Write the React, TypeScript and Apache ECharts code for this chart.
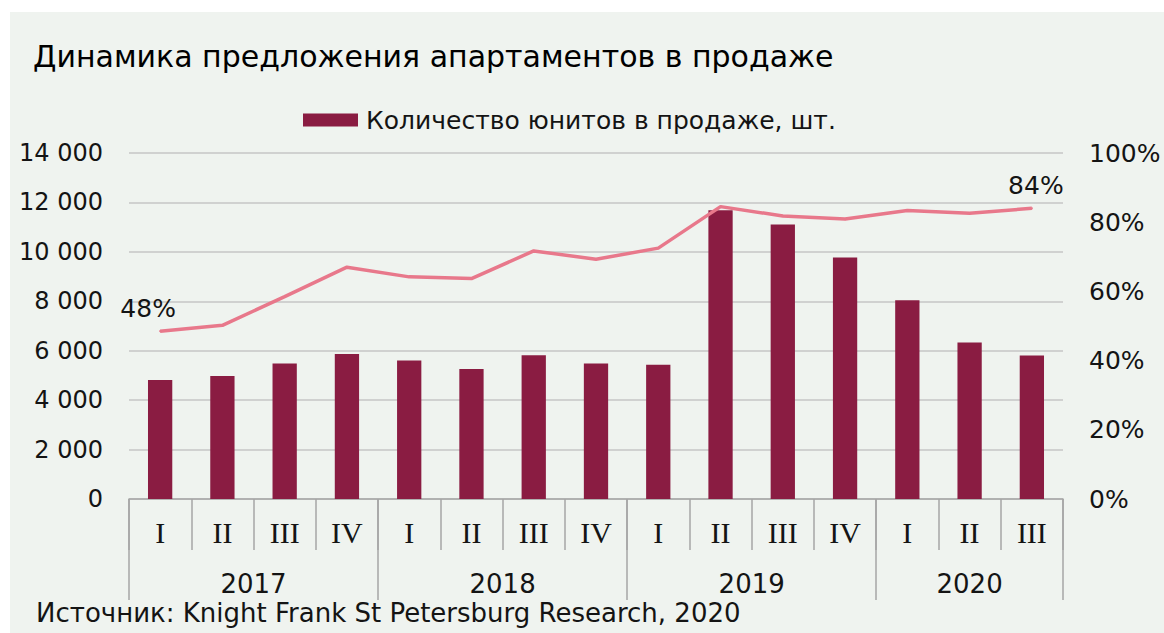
import React, { useEffect, useRef } from "react";
import * as echarts from "echarts";

const quarters = ["I", "II", "III", "IV", "I", "II", "III", "IV", "I", "II", "III", "IV", "I", "II", "III"];
const years = ["2017", "2018", "2019", "2020"];
const quartersPerYear = [4, 4, 4, 3];
const units = [4820, 4980, 5480, 5870, 5605, 5265, 5820, 5485, 5430, 11680, 11110, 9775, 8045, 6335, 5805];
const shares = [48.5, 50.2, 58.5, 67.0, 64.2, 63.7, 71.7, 69.3, 72.5, 84.5, 81.8, 80.9, 83.4, 82.6, 84.0];
const shareLabels = ["48%", "", "", "", "", "", "", "", "", "", "", "", "", "", "84%"];
const leftTicks = [0, 2000, 4000, 6000, 8000, 10000, 12000, 14000];
const rightTicks = [0, 20, 40, 60, 80, 100];

const TITLE = "Динамика предложения апартаментов в продаже";
const LEGEND = "Количество юнитов в продаже, шт.";
const SOURCE = "Источник: Knight Frank St Petersburg Research, 2020";

const SANS = "DejaVu Sans";
const SERIF = "Liberation Serif";
const TXT = "#141414";
const LINE = "#E8788B";

function fmtThousands(v: number): string {
  return String(v).replace(/\B(?=(\d{3})+(?!\d))/g, " ");
}

export default function App() {
  const ref = useRef<HTMLDivElement>(null);
  useEffect(() => {
    if (!ref.current) return;
    const chart = echarts.init(ref.current, null, { renderer: "svg" });

    const bounds: number[] = [0];
    const centers: number[] = [];
    let acc = 0;
    quartersPerYear.forEach((n) => {
      centers.push(acc + n / 2);
      acc += n;
      bounds.push(acc);
    });

    const lineData = shares.map((v, i) =>
      shareLabels[i]
        ? {
            value: v,
            label: {
              show: true,
              formatter: shareLabels[i],
              position: "top",
              distance: 0,
              offset: i === 0 ? [-12, -9] : [4, -9],
              fontFamily: SANS,
              fontSize: 25,
              lineHeight: 25,
              color: TXT,
            },
          }
        : v
    );

    chart.setOption({
      animation: false,
      backgroundColor: "transparent",
      title: {
        text: TITLE,
        left: 33,
        top: 40,
        textStyle: { fontFamily: SANS, fontSize: 30, fontWeight: "normal", color: "#000", lineHeight: 32 },
        padding: 0,
      },
      legend: {
        left: 303,
        top: 106,
        padding: 0,
        itemWidth: 55,
        itemHeight: 13,
        itemGap: 10,
        data: [{ name: LEGEND, icon: "rect" }],
        textStyle: { fontFamily: SANS, fontSize: 25, color: TXT, lineHeight: 28, padding: [0, 0, 0, 3] },
      },
      grid: { left: 129, right: 101, top: 153, bottom: 134, containLabel: false },
      xAxis: [
        {
          type: "category",
          data: quarters,
          position: "bottom",
          boundaryGap: true,
          axisLine: { show: true, lineStyle: { color: "#A6A6A6", width: 1.5 } },
          axisTick: { show: true, interval: 0, length: 51, lineStyle: { color: "#A6A6A6", width: 1.5 } },
          axisLabel: { interval: 0, margin: 18, fontFamily: SERIF, fontSize: 30, color: TXT },
          splitLine: { show: false },
        },
        {
          type: "value",
          min: 0,
          max: quarters.length,
          position: "bottom",
          axisLine: { show: false },
          axisTick: { show: true, customValues: bounds, length: 101, lineStyle: { color: "#A6A6A6", width: 1.5 } },
          axisLabel: {
            show: true,
            customValues: centers,
            margin: 75,
            fontFamily: SANS,
            fontSize: 26,
            lineHeight: 20,
            color: TXT,
            formatter: (v: number) => {
              const idx = centers.findIndex((c) => Math.abs(c - v) < 1e-6);
              return idx >= 0 ? years[idx] : "";
            },
          },
          splitLine: { show: false },
        },
      ],
      yAxis: [
        {
          type: "value",
          min: leftTicks[0],
          max: leftTicks[leftTicks.length - 1],
          interval: leftTicks[1] - leftTicks[0],
          axisLine: { show: false },
          axisTick: { show: false },
          axisLabel: { margin: 26, fontFamily: SANS, fontSize: 24, color: TXT, formatter: (v: number) => fmtThousands(v) },
          splitLine: { show: true, lineStyle: { color: "#C6C6C6", width: 1.5 } },
        },
        {
          type: "value",
          min: rightTicks[0],
          max: rightTicks[rightTicks.length - 1],
          interval: rightTicks[1] - rightTicks[0],
          position: "right",
          axisLine: { show: false },
          axisTick: { show: false },
          axisLabel: { margin: 26, fontFamily: SANS, fontSize: 25, color: TXT, formatter: "{value}%" },
          splitLine: { show: false },
        },
      ],
      series: [
        {
          name: LEGEND,
          type: "bar",
          data: units,
          xAxisIndex: 0,
          yAxisIndex: 0,
          barWidth: "39%",
          itemStyle: { color: "#8A1C42" },
        },
        {
          name: "share",
          type: "line",
          data: lineData,
          xAxisIndex: 0,
          yAxisIndex: 1,
          symbol: "circle",
          symbolSize: 2,
          showSymbol: true,
          itemStyle: { color: LINE },
          lineStyle: { color: LINE, width: 3.5 },
          z: 5,
        },
      ],
      graphic: [
        {
          type: "text",
          left: 36,
          top: 600,
          style: { text: SOURCE, fontFamily: SANS, fontSize: 26, lineHeight: 22, fill: TXT },
        },
      ],
    });
    return () => chart.dispose();
  }, []);

  return (
    <div style={{ position: "fixed", left: 0, top: 0, width: 1164, height: 633, background: "#fff" }}>
      <div style={{ position: "absolute", left: 10, top: 12, right: 0, bottom: 0, background: "#EFF3EF" }} />
      <div ref={ref} style={{ position: "absolute", left: 0, top: 0, width: 1164, height: 633 }} />
    </div>
  );
}
